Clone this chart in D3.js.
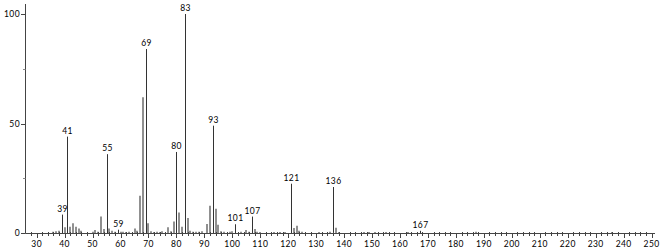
<!DOCTYPE html>
<html><head><meta charset="utf-8">
<script src="https://cdn.jsdelivr.net/npm/d3@7"></script>
<style>body{margin:0;background:#fff}svg{display:block}text{font-family:Lato,"DejaVu Sans",sans-serif;font-size:8.5px;fill:#000;letter-spacing:0.4px}</style>
</head><body><svg id="c" width="667" height="249"></svg>
<script>
const mz =        [36, 37, 38, 39, 40, 41, 42, 43, 44, 45, 46, 50, 51, 52, 53, 54, 55, 56, 57, 58, 59, 60, 61, 62, 63, 65, 66, 67, 68, 69, 70, 71, 72, 73, 74, 75, 77, 78, 79, 80, 81, 82, 83, 84, 85, 86, 87, 88, 89, 91, 92, 93, 94, 95, 96, 97, 99, 100, 101, 103, 105, 106, 107, 108, 109, 110, 115, 117, 119, 121, 122, 123, 124, 125, 131, 135, 136, 137, 138, 147, 149, 151, 155, 163, 167, 187, 236];
const intensity = [0.6, 0.8, 1.0, 8.4, 2.6, 44, 2.9, 4.4, 2.9, 2.1, 1.0, 0.6, 1.4, 0.6, 7.5, 1.8, 36, 2.1, 1.0, 0.6, 1.5, 0.6, 0.6, 0.5, 0.6, 2.0, 1.0, 17, 62, 84, 4.4, 0.8, 0.5, 0.6, 0.5, 0.8, 2.6, 0.8, 5.2, 37, 9.4, 2.9, 100, 6.8, 1.0, 0.6, 0.6, 0.6, 0.8, 4.1, 12.5, 49, 11.1, 3.8, 0.8, 0.6, 0.6, 0.8, 4.0, 0.6, 1.4, 0.6, 7.5, 1.8, 0.6, 0.5, 0.5, 0.5, 0.5, 22.5, 2.3, 3.3, 1.0, 0.6, 0.5, 0.6, 21, 2.4, 0.5, 0.5, 0.5, 0.5, 0.5, 0.5, 1.0, 0.6, 0.5];
const labeled = [39, 41, 55, 59, 69, 80, 83, 93, 101, 107, 121, 136, 167];
const xTicks = [30, 40, 50, 60, 70, 80, 90, 100, 110, 120, 130, 140, 150, 160, 170, 180, 190, 200, 210, 220, 230, 240, 250];
const yTicks = [0, 50, 100];

const svg = d3.select("#c");
const x = d3.scaleLinear().domain([26, 251]).range([25.5, 654.4]);
const y = d3.scaleLinear().domain([0, 100]).range([233, 14]);
const data = mz.map((m, i) => ({m, v: intensity[i], lab: labeled.includes(m)}));

// bars
svg.append("g").selectAll("line").data(data).join("line")
  .attr("x1", d => Math.round(x(d.m)) + (d.lab ? 0.5 : 0))
  .attr("x2", d => Math.round(x(d.m)) + (d.lab ? 0.5 : 0))
  .attr("y1", y(0)).attr("y2", d => y(d.v))
  .attr("stroke", d => d.lab ? "#333" : "#909090")
  .attr("stroke-width", d => d.lab ? 1 : 2);

// peak labels
svg.append("g").selectAll("text").data(data.filter(d => d.lab)).join("text")
  .attr("x", d => Math.round(x(d.m)) + 0.5).attr("y", d => y(d.v) - 3)
  .attr("text-anchor", "middle").text(d => d.m);

// x axis
const gx = svg.append("g");
gx.append("line").attr("x1", 25.5).attr("x2", 655).attr("y1", 233.5).attr("y2", 233.5).attr("stroke", "#444");
const minor = d3.range(28, 251, 2).filter(v => v % 10 !== 0);
gx.selectAll("line.mi").data(minor).join("line").attr("class", "mi")
  .attr("x1", d => Math.round(x(d)) + 0.5).attr("x2", d => Math.round(x(d)) + 0.5)
  .attr("y1", 232).attr("y2", 236).attr("stroke", "#444");
gx.selectAll("line.ma").data(xTicks).join("line").attr("class", "ma")
  .attr("x1", d => Math.round(x(d)) + 0.5).attr("x2", d => Math.round(x(d)) + 0.5)
  .attr("y1", 233).attr("y2", 238).attr("stroke", "#444");
gx.selectAll("text").data(xTicks).join("text")
  .attr("x", d => x(d)).attr("y", 247).attr("text-anchor", "middle").text(d => d);

// y axis
const gy = svg.append("g");
gy.append("line").attr("x1", 25.5).attr("x2", 25.5).attr("y1", 4).attr("y2", 233.5).attr("stroke", "#444");
gy.selectAll("line.t").data(yTicks).join("line").attr("class", "t")
  .attr("x1", 21).attr("x2", 25.5).attr("y1", d => Math.round(y(d)) + 0.5).attr("y2", d => Math.round(y(d)) + 0.5).attr("stroke", "#444");
gy.selectAll("line.m").data([25, 75]).join("line").attr("class", "m")
  .attr("x1", 23).attr("x2", 25.5).attr("y1", d => Math.round(y(d)) + 0.5).attr("y2", d => Math.round(y(d)) + 0.5).attr("stroke", "#888");
gy.selectAll("text").data(yTicks).join("text")
  .attr("x", 20).attr("y", d => y(d) + 3).attr("text-anchor", "end").text(d => d);
</script></body></html>
